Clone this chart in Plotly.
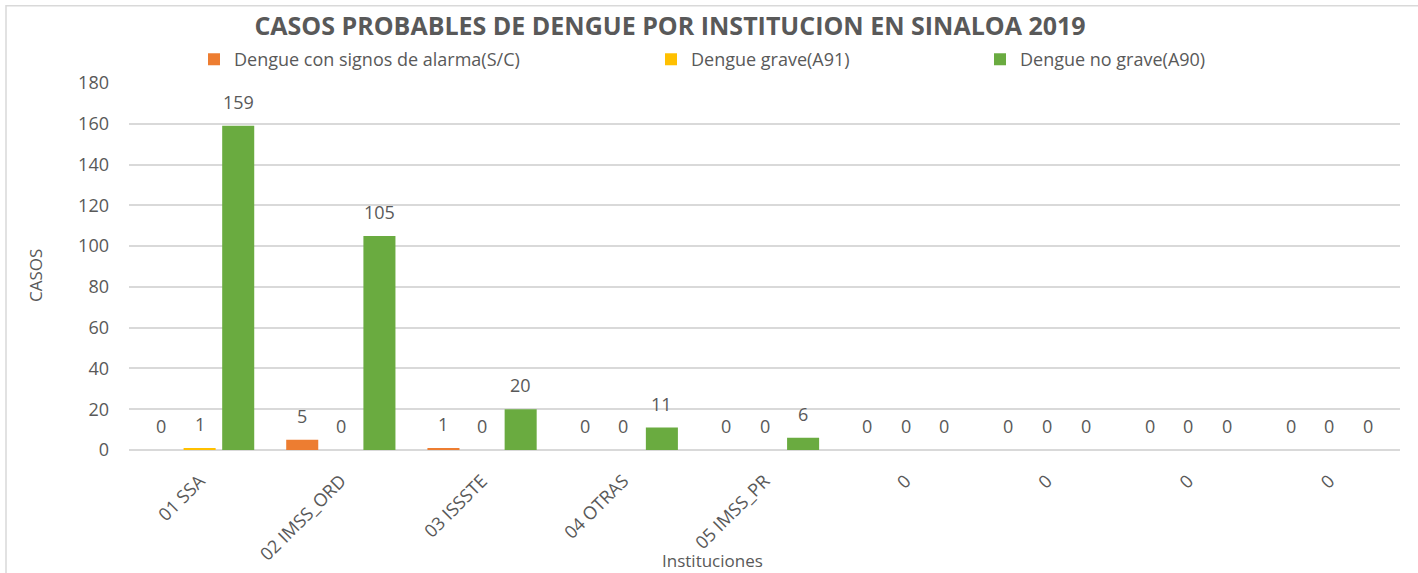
import plotly.graph_objects as go

# ---- data ----
categories = ["01 SSA", "02 IMSS_ORD", "03 ISSSTE", "04 OTRAS", "05 IMSS_PR", "0", "0", "0", "0"]
series_names = ["Dengue con signos de alarma(S/C)", "Dengue grave(A91)", "Dengue no grave(A90)"]
alarma = [0, 5, 1, 0, 0, 0, 0, 0, 0]
grave = [1, 0, 0, 0, 0, 0, 0, 0, 0]
no_grave = [159, 105, 20, 11, 6, 0, 0, 0, 0]
y_ticks = [0, 20, 40, 60, 80, 100, 120, 140, 160, 180]

title_text = "CASOS PROBABLES DE DENGUE POR INSTITUCION EN SINALOA 2019"
x_title = "Instituciones"
y_title = "CASOS"

colors = ["#ED7D31", "#FFC000", "#6AAB40"]
text_color = "#595959"
grid_color = "#D9D9D9"
FONT = "Open Sans"

W, H = 1418, 573
L, R, T, B = 129, 18, 82.5, 122.5
plot_w = W - L - R
plot_h = H - T - B

def px_x(px):
    return (px - L) / plot_w

def px_y(py):
    return (H - B - py) / plot_h

bargap = 0.18
bargroupgap = 0.17
x_idx = list(range(len(categories)))
series = [alarma, grave, no_grave]
legend_ids = ["legend", "legend2", "legend3"]

fig = go.Figure()
for name, vals, col, lg in zip(series_names, series, colors, legend_ids):
    fig.add_trace(go.Bar(
        x=x_idx, y=vals, name=name, legend=lg,
        marker=dict(color=col, line=dict(width=0)),
        hoverinfo="x+y+name",
    ))

# data labels above the bars
slot = (1 - bargap) / len(series)
annotations = []
for k, vals in enumerate(series):
    off = (k - (len(series) - 1) / 2) * slot
    for i, v in enumerate(vals):
        annotations.append(dict(
            x=i + off, y=v, xref="x", yref="y", text=str(v), showarrow=False,
            yshift=24, xanchor="center", yanchor="middle",
            font=dict(family=FONT, size=18, color=text_color),
        ))

annotations.append(dict(
    x=px_x(712), y=px_y(561), xref="paper", yref="paper", text=x_title,
    xanchor="center", yanchor="middle",
    showarrow=False, font=dict(family=FONT, size=17, color=text_color),
))
annotations.append(dict(
    x=px_x(36), y=px_y(276), xref="paper", yref="paper", text=y_title,
    xanchor="center", yanchor="middle",
    showarrow=False, textangle=-90, font=dict(family=FONT, size=17, color=text_color),
))

legend_common = dict(
    orientation="h", yanchor="middle", xanchor="left",
    font=dict(family=FONT, size=18, color=text_color),
    bgcolor="rgba(0,0,0,0)", itemclick=False, itemdoubleclick=False,
)

fig.update_layout(
    width=W, height=H,
    margin=dict(l=L, r=R, t=T, b=B, pad=0, autoexpand=False),
    paper_bgcolor="white", plot_bgcolor="white",
    font=dict(family=FONT, color=text_color),
    title=dict(text="<b>" + title_text + "</b>", xref="container", x=670 / W, xanchor="center",
               yref="container", y=1 - 26 / H, yanchor="middle",
               font=dict(family=FONT, size=25, color=text_color)),
    barmode="group", bargap=bargap, bargroupgap=bargroupgap,
    showlegend=True,
    legend=dict(x=px_x(194), y=px_y(59), **legend_common),
    legend2=dict(x=px_x(651), y=px_y(59), **legend_common),
    legend3=dict(x=px_x(980), y=px_y(59), **legend_common),
    xaxis=dict(
        tickmode="array", tickvals=x_idx, ticktext=categories,
        range=[-0.5, len(categories) - 0.5], tickangle=-45,
        showgrid=False, zeroline=False, showline=False, ticks="",
        ticklabelstandoff=16, automargin=False,
        tickfont=dict(family=FONT, size=18, color=text_color),
    ),
    yaxis=dict(
        range=[0, 180], tickmode="array", tickvals=y_ticks,
        showgrid=True, gridcolor=grid_color, gridwidth=2,
        zeroline=True, zerolinecolor=grid_color, zerolinewidth=2,
        showline=False, ticks="", ticklabelstandoff=19, automargin=False,
        tickfont=dict(family=FONT, size=18, color=text_color),
    ),
    annotations=annotations,
    shapes=[dict(type="rect", xref="paper", yref="paper",
                 x0=px_x(6), x1=px_x(W + 20), y0=px_y(H + 20), y1=px_y(5),
                 line=dict(color=grid_color, width=1.5), fillcolor="rgba(0,0,0,0)",
                 layer="below")],
)

fig.write_html("out.html", config={"displayModeBar": False},
               post_script="document.body.style.margin='0';")
